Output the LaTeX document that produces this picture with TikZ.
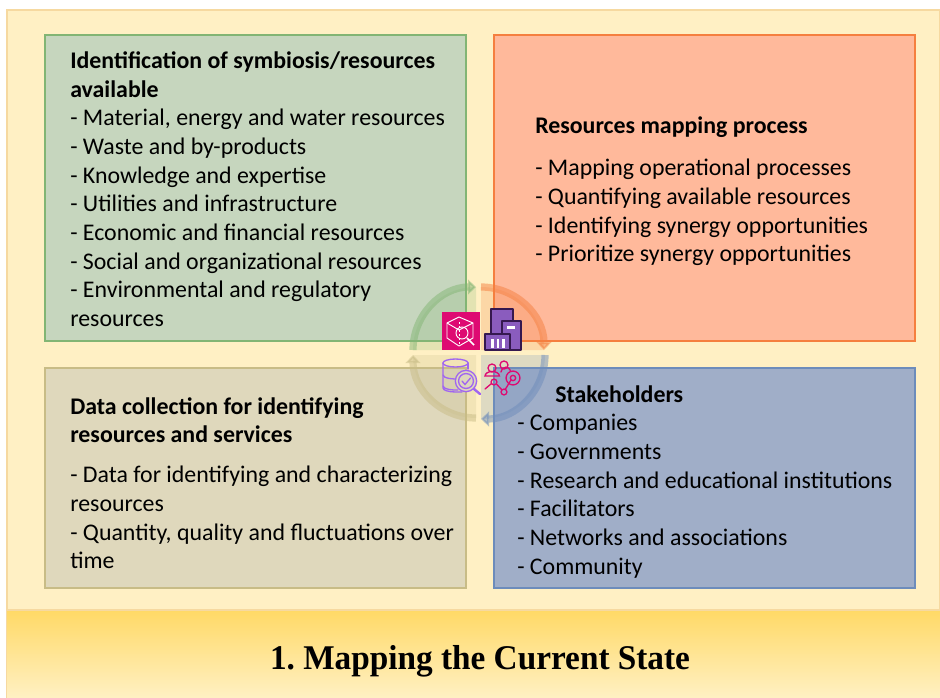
\documentclass[tikz,border=0pt]{standalone}
\usepackage{fontspec}
\setmainfont{Carlito}
\newfontfamily\titlefont{Liberation Serif}
\usetikzlibrary{arrows.meta}
\definecolor{paper}{HTML}{FFF0C4}
\definecolor{paperline}{HTML}{F6D9A0}
\definecolor{bandtop}{HTML}{FFD966}
\definecolor{bandend}{HTML}{FFF0C2}
\definecolor{greenfill}{HTML}{C6D6BE}
\definecolor{greenline}{HTML}{82B574}
\definecolor{orangefill}{HTML}{FFB99B}
\definecolor{orangeline}{HTML}{F57F3F}
\definecolor{tanfill}{HTML}{DFD8BC}
\definecolor{tanline}{HTML}{C8BC86}
\definecolor{bluefill}{HTML}{A0AEC8}
\definecolor{blueline}{HTML}{6D8CBB}
\definecolor{awspink}{HTML}{DE0A72}
\definecolor{awspurple}{HTML}{8A5CBE}
\definecolor{awsdark}{HTML}{35184F}
\definecolor{dbpurple}{HTML}{A166F0}
\tikzset{
  panel/.style={line width=2.2pt},
  heading/.style={anchor=north west, inner sep=0pt, align=left, font=\fontsize{17.9}{21.5}\selectfont\bfseries},
  items/.style={anchor=north west, inner sep=0pt, align=left, font=\fontsize{17.9}{21.5}\selectfont},
  ringarrow/.style={line width=5.4pt, opacity=.5, -{Triangle[width=11pt,length=6pt]}},
  sector/.style={opacity=.22},
  cubeline/.style={white, line width=.7pt, line join=round},
  dbline/.style={dbpurple, line width=1pt, line cap=round},
  netline/.style={awspink, line width=1pt, line cap=round}
}
\begin{document}
\begin{tikzpicture}[x=.75pt,y=.75pt]
\useasboundingbox (0,0) rectangle (940,-697);
\draw [paperline, fill=paper, line width=.8pt] (7,-10) rectangle (940,-697);
\shade [top color=bandtop, bottom color=bandend] (7,-610) rectangle (940,-697);
\draw [paperline, line width=.8pt] (7,-610) -- (940,-610);

\draw [panel, greenline, fill=greenfill] (45,-35) rectangle (466,-341);
\draw [panel, orangeline, fill=orangefill] (494,-35) rectangle (915,-341);
\draw [panel, tanline, fill=tanfill] (45,-368) rectangle (466,-588);
\draw [panel, blueline, fill=bluefill] (494,-368) rectangle (915,-588);

\fill [sector, greenline] (476,-350) -- (413,-350) arc [start angle=180, end angle=90, radius=47.25pt] -- cycle;
\fill [sector, orangeline] (481,-350) -- (481,-287) arc [start angle=90, end angle=0, radius=47.25pt] -- cycle;
\fill [sector, blueline] (481,-355) -- (545,-355) arc [start angle=0, end angle=-90, radius=48pt] -- cycle;
\fill [sector, tanline] (476,-355) -- (476,-418) arc [start angle=-90, end angle=-180, radius=47.25pt] -- cycle;
\draw [ringarrow, greenline] (413,-350) arc [start angle=180, end angle=90, radius=47.25pt];
\draw [ringarrow, orangeline] (481,-287) arc [start angle=90, end angle=0, radius=47.25pt];
\draw [ringarrow, blueline] (545,-355) arc [start angle=0, end angle=-90, radius=48pt];
\draw [ringarrow, tanline] (476,-418) arc [start angle=-90, end angle=-180, radius=47.25pt];

\fill [awspink] (442,-312) rectangle (480,-350);
\draw [cubeline] (459,-317) -- (473,-323) -- (473,-338) -- (459,-346) -- (447,-338) -- (447,-323) -- cycle;
\draw [cubeline] (447,-323) -- (459,-330) -- (473,-323);
\draw [cubeline, dashed, dash pattern=on 1.5pt off 1.5pt] (459,-322) -- (459,-346);
\draw [cubeline] (462,-333) circle [radius=4.5pt];
\draw [cubeline, line width=1.1pt] (467,-338) -- (474,-345);

\draw [awsdark, fill=awspurple, line width=1.6pt, line join=round] (491,-309) rectangle (513,-336);
\draw [awsdark, fill=awspurple, line width=1.6pt, line join=round] (502,-321) rectangle (521,-350);
\draw [awsdark, fill=awspurple, line width=1.6pt, line join=round] (485,-334) rectangle (510,-350);
\fill [white] (507,-326) rectangle (515,-328.5);
\fill [white] (491,-339) rectangle (493.5,-348);
\fill [white] (496.5,-339) rectangle (499,-348);
\fill [white] (502,-339) rectangle (504.5,-348);

\draw [dbline] (455.5,-363) ellipse [x radius=9.4pt, y radius=3pt];
\draw [dbline] (443,-363) -- (443,-388) arc [start angle=180, end angle=270, x radius=9.4pt, y radius=3pt] -- (462,-392);
\draw [dbline] (468,-363) -- (468,-369);
\draw [dbline] (443,-375) arc [start angle=180, end angle=290, x radius=9.4pt, y radius=3pt];
\draw [dbline] (443,-386) arc [start angle=180, end angle=280, x radius=9.4pt, y radius=3pt];
\draw [dbline, fill=tanfill] (466,-381) circle [radius=8pt];
\draw [dbline] (466,-381) circle [radius=5.6pt];
\draw [dbline] (462,-381) -- (465,-384.5) -- (470.5,-378);
\draw [dbline, line width=1.8pt] (474,-389) -- (480,-394);

\draw [netline] (492,-368) circle [radius=3pt];
\draw [netline] (504,-365) circle [radius=3pt];
\draw [netline] (485,-376) arc [start angle=180, end angle=0, x radius=5.4pt, y radius=3.4pt] -- cycle;
\draw [netline] (501,-372) arc [start angle=180, end angle=20, radius=3.6pt];
\draw [netline] (485,-389) -- (491.5,-383.5);
\draw [netline] (494,-382) circle [radius=2.2pt];
\draw [netline] (496.5,-384) -- (502,-390);
\draw [netline] (504,-392) circle [radius=2.2pt];
\draw [netline] (505.5,-389) -- (511,-380);
\draw [netline] (513,-378) circle [radius=2pt];
\draw [netline] (513,-378) circle [radius=5.2pt];

\node [heading] (idhead) at (70,-51.5) {Identification of symbiosis/resources\\available};
\node [items] (idlist) at (70,-109) {- Material, energy and water resources\\- Waste and by-products\\- Knowledge and expertise\\- Utilities and infrastructure\\- Economic and financial resources\\- Social and organizational resources\\- Environmental and regulatory\\resources};
\node [heading] (maphead) at (535,-116) {Resources mapping process};
\node [items] (maplist) at (535,-159) {- Mapping operational processes\\- Quantifying available resources\\- Identifying synergy opportunities\\- Prioritize synergy opportunities};
\node [heading] (datahead) at (70,-397) {Data collection for identifying\\resources and services};
\node [items] (datalist) at (70,-466) {- Data for identifying and characterizing\\resources\\- Quantity, quality and fluctuations over\\time};
\node [heading] (stakehead) at (555,-385) {Stakeholders};
\node [items] (stakelist) at (517,-414) {- Companies\\- Governments\\- Research and educational institutions\\- Facilitators\\- Networks and associations\\- Community};

\node [xscale=.96] (title) at (480,-661) {\titlefont\bfseries\frenchspacing\fontsize{26}{30}\selectfont 1. Mapping the Current State};
\end{tikzpicture}
\end{document}
